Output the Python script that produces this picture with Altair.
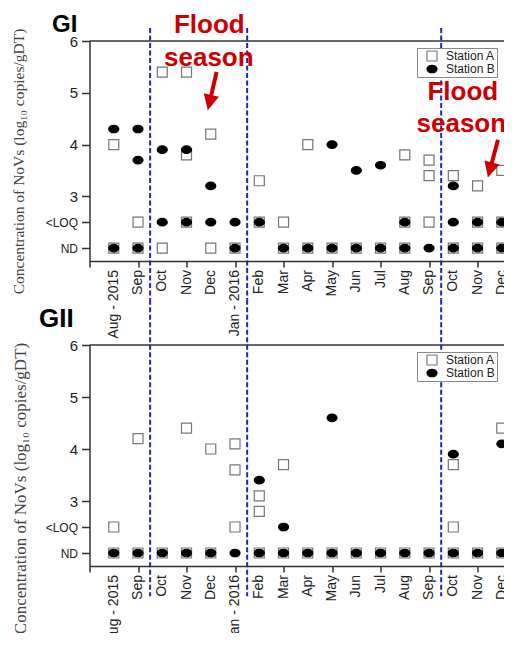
import altair as alt
import pandas as pd

# ---------------- data ----------------
months = ["Aug - 2015", "Sep", "Oct", "Nov", "Dec", "Jan - 2016", "Feb", "Mar",
          "Apr", "May", "Jun", "Jul", "Aug", "Sep", "Oct", "Nov", "Dec"]
month_pos = list(range(len(months)))
stations = ["Station A", "Station B"]
ND, LOQ = 2.0, 2.5
y_tick_values = [2.0, 2.5, 3, 4, 5, 6]
flood_bounds = [1.5, 5.5, 13.5]

# GI
gi_a_month = [0, 0, 1, 1, 2, 2, 3, 3, 3, 4, 4, 5, 6, 6, 7, 7, 8, 8, 9, 10, 11,
              12, 12, 12, 13, 13, 13, 14, 14, 15, 15, 15, 16, 16, 16]
gi_a_value = [4.0, ND, LOQ, ND, 5.4, ND, 5.4, 3.8, LOQ, 4.2, ND, ND, 3.3, LOQ, LOQ, ND, 4.0, ND, ND, ND, ND,
              3.8, LOQ, ND, 3.7, 3.4, LOQ, 3.4, ND, 3.2, LOQ, ND, 3.5, LOQ, ND]
gi_b_month = [0, 0, 1, 1, 1, 2, 2, 3, 3, 4, 4, 5, 5, 6, 7, 8, 9, 9, 10, 10, 11, 11,
              12, 12, 13, 14, 14, 14, 15, 15, 16, 16]
gi_b_value = [4.3, ND, 4.3, 3.7, ND, 3.9, LOQ, 3.9, LOQ, 3.2, LOQ, LOQ, ND, LOQ, ND, ND, 4.0, ND, 3.5, ND, 3.6, ND,
              LOQ, ND, ND, 3.2, LOQ, ND, LOQ, ND, LOQ, ND]

# GII
gii_a_month = [0, 0, 1, 1, 2, 3, 3, 4, 4, 5, 5, 5, 6, 6, 6, 7, 7, 8, 9, 10, 11, 12, 13,
               14, 14, 14, 15, 16, 16]
gii_a_value = [LOQ, ND, 4.2, ND, ND, 4.4, ND, 4.0, ND, 4.1, 3.6, LOQ, 3.1, 2.8, ND, 3.7, ND, ND, ND, ND, ND, ND, ND,
               3.7, LOQ, ND, ND, 4.4, ND]
gii_b_month = [0, 1, 2, 3, 4, 5, 6, 6, 7, 7, 8, 9, 9, 10, 11, 12, 13, 14, 14, 15, 16, 16]
gii_b_value = [ND, ND, ND, ND, ND, ND, 3.4, ND, LOQ, ND, ND, 4.6, ND, ND, ND, ND, ND, 3.9, ND, ND, 4.1, ND]

# annotations (in data coordinates of the GI panel)
flood_words = ["Flood", "season", "Flood", "season"]
flood_word_x = [3.94, 3.92, 14.39, 14.33]
flood_word_y = [6.155, 5.517, 4.86, 4.24]
arrow_x = [4.24, 15.84]
arrow_y = [5.40, 4.09]
arrow_x2 = [3.95, 15.51]
arrow_y2 = [4.81, 3.51]
arrow_rot = [13, 15]

# ---------------- styling / layout ----------------
SANS = "Liberation Sans"
SERIF = "Liberation Serif"
RED = "#cc0000"
BLUE = "#2222c4"
AXIS = "#333333"
X_DOMAIN = [-1, 16.09]
Y_DOMAIN = [1.75, 6]
PAD_L, PAD_T, PAD_B = 81.5, 33, 67
W, H = 414.5, 525
TOP_RANGE = [220, 0]
BOT_RANGE = [525, 304]
ELLIPSE = "M-1,0A1,0.75,0,1,1,1,0A1,0.75,0,1,1,-1,0Z"
HEAD = "M-1,-1L1,-1L0,1Z"


def points_df(am, av, bm, bv):
    return pd.DataFrame({
        "month": am + bm,
        "value": av + bv,
        "station": [stations[0]] * len(am) + [stations[1]] * len(bm),
    })


def panel(df, yrange, x_offset, label_y, tag, tag_x, tag_y, tag_size, title_size, title_x, title_y,
          legend_y, rule_top, rule_bot, flood=False):
    leg = alt.Legend(orient="none", legendX=327.5, legendY=legend_y, title=None,
                     strokeColor="#888888", fillColor="white", padding=2,
                     labelFont=SANS, labelFontSize=12, labelColor="#222222",
                     symbolOffset=7, labelOffset=8, rowPadding=1, clipHeight=12,
                     symbolStrokeWidth=1.2, symbolSize=100)
    xax = alt.Axis(values=list(range(-1, 17)), orient="bottom", offset=x_offset,
                   labels=False, tickSize=6, tickColor=AXIS, tickWidth=1.5,
                   domainColor=AXIS, domainWidth=1.5, grid=False, title=None)
    yax = alt.Axis(values=y_tick_values, orient="left",
                   labelExpr="datum.value == 2 ? 'ND' : (datum.value == 2.5 ? '<LOQ' : format(datum.value, 'd'))",
                   labelFont=SANS,
                   labelFontSize={"condition": {"test": "datum.value < 2.9", "value": 12}, "value": 15},
                   labelColor="#222222", labelPadding=4,
                   tickSize=8, tickColor=AXIS, tickWidth=1.5,
                   domainColor=AXIS, domainWidth=1.5, grid=False,
                   title="Concentration of NoVs (log\u2081\u2080 copies/gDT)",
                   titleFont=SERIF, titleFontSize=title_size, titleFontWeight="normal",
                   titleColor="#444444", titleAngle=270, titleAlign="center",
                   titleBaseline="middle", titleX=title_x, titleY=title_y)
    xsc = alt.Scale(domain=X_DOMAIN, nice=False, zero=False)
    ysc = alt.Scale(domain=Y_DOMAIN, range=yrange, nice=False, zero=False)
    X = lambda f: alt.X(f, scale=xsc, axis=xax)
    Y = lambda f: alt.Y(f, scale=ysc, axis=yax)

    pts = alt.Chart(df).mark_point(opacity=1, strokeWidth=1.2, size=100).encode(
        x=X("month:Q"),
        y=Y("value:Q"),
        shape=alt.Shape("station:N", scale=alt.Scale(domain=stations, range=["square", ELLIPSE]), legend=leg),
        fill=alt.Fill("station:N", scale=alt.Scale(domain=stations, range=["white", "black"]), legend=leg),
        stroke=alt.Stroke("station:N", scale=alt.Scale(domain=stations, range=["#777777", "black"]), legend=leg),
    )

    top_line = alt.Chart(pd.DataFrame({"month": [X_DOMAIN[0]], "m2": [X_DOMAIN[1]]})).mark_rule(
        color=AXIS, strokeWidth=1.5).encode(x=X("month:Q"), x2="m2:Q", y=alt.datum(Y_DOMAIN[1]))

    dashes = alt.Chart(pd.DataFrame({"month": flood_bounds})).mark_rule(
        color=BLUE, strokeWidth=2, strokeDash=[5, 2.5]).encode(
        x=X("month:Q"), y=alt.datum(rule_top), y2=alt.datum(rule_bot))

    xlabels = alt.Chart(pd.DataFrame({"month": month_pos, "lab": months})).mark_text(
        font=SANS, fontSize=14, color="#222222", angle=270, align="right", baseline="middle").encode(
        x=X("month:Q"), y=alt.datum(label_y), text="lab:N")

    tag_mark = alt.Chart(pd.DataFrame({"t": [tag]})).mark_text(
        font=SANS, fontSize=tag_size, fontWeight="bold", color="black",
        align="center", baseline="alphabetic").encode(
        x=alt.datum(tag_x), y=alt.datum(tag_y), text="t:N")

    layers = [pts, top_line, dashes, xlabels, tag_mark]

    if flood:
        words = alt.Chart(pd.DataFrame({"month": flood_word_x, "value": flood_word_y, "w": flood_words})).mark_text(
            font=SANS, fontSize=26, fontWeight="bold", color=RED, align="center", baseline="alphabetic").encode(
            x=X("month:Q"), y=Y("value:Q"), text="w:N")
        adf = pd.DataFrame({"month": arrow_x, "value": arrow_y, "m2": arrow_x2, "v2": arrow_y2, "rot": arrow_rot})
        shafts = alt.Chart(adf).mark_rule(color=RED, strokeWidth=4).encode(
            x=X("month:Q"), y=Y("value:Q"), x2="m2:Q", y2="v2:Q")
        heads = alt.Chart(adf).mark_point(shape=HEAD, filled=True, color=RED, size=240, opacity=1,
                                          strokeWidth=0).encode(
            x=X("m2:Q"), y=Y("v2:Q"), angle=alt.Angle("rot:Q", scale=None))
        layers += [words, shafts, heads]

    return alt.layer(*layers)


top = panel(points_df(gi_a_month, gi_a_value, gi_b_month, gi_b_value), TOP_RANGE, -(H - TOP_RANGE[0]), 1.576,
            "GI", -2.02, 6.174, 24, 15.5, -71.5, 120, 7, 6.25, 1.0, flood=True)
bottom = panel(points_df(gii_a_month, gii_a_value, gii_b_month, gii_b_value), BOT_RANGE, 0, 1.577,
               "GII", -2.37, 6.346, 26, 17, -69.5, 447, 311, 6.87, 1.17, flood=False)

chart = alt.layer(top, bottom).resolve_scale(
    x="independent", y="independent", shape="independent", fill="independent", stroke="independent"
).resolve_axis(x="independent", y="independent").resolve_legend(
    shape="independent", fill="independent", stroke="independent"
).properties(
    width=W, height=H,
    autosize=alt.AutoSizeParams(type="none"),
    padding={"left": PAD_L, "top": PAD_T, "right": 0, "bottom": PAD_B},
    background="white",
).configure_view(stroke=None)

chart.save("out.html", embed_options={"renderer": "svg", "actions": False})
